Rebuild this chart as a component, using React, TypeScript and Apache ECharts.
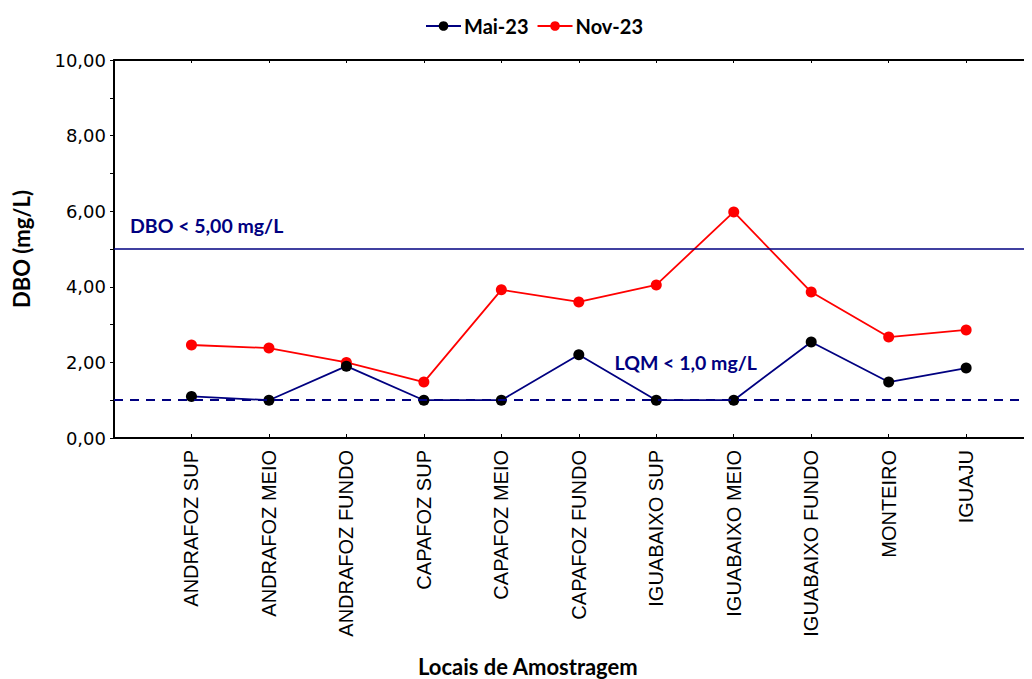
import React, { useEffect, useRef } from "react";
import * as echarts from "echarts";

const categories = [
  "ANDRAFOZ SUP",
  "ANDRAFOZ MEIO",
  "ANDRAFOZ FUNDO",
  "CAPAFOZ SUP",
  "CAPAFOZ MEIO",
  "CAPAFOZ FUNDO",
  "IGUABAIXO SUP",
  "IGUABAIXO MEIO",
  "IGUABAIXO FUNDO",
  "MONTEIRO",
  "IGUAJU",
];
const mai23 = [1.1, 1.0, 1.9, 1.0, 1.0, 2.2, 1.0, 1.0, 2.54, 1.48, 1.85];
const nov23 = [2.46, 2.38, 2.0, 1.48, 3.92, 3.6, 4.05, 5.98, 3.86, 2.67, 2.86];
const yTicks = [0, 2, 4, 6, 8, 10];
const dboLimit = 5;
const lqmLimit = 1;
const xMax = 11.85;

const NAVY = "#000080";
const fmt = (v: number) => v.toFixed(2).replace(".", ",");

export default function App() {
  const ref = useRef<HTMLDivElement>(null);
  useEffect(() => {
    if (!ref.current) return;
    const chart = echarts.init(ref.current, null, { renderer: "svg" });
    const toXY = (arr: number[]) => arr.map((v, i) => [i + 1, v]);
    chart.setOption({
      animation: false,
      backgroundColor: "#fff",
      legend: {
        top: 11,
        left: 420,
        itemGap: 8,
        itemWidth: 35,
        itemHeight: 12,
        textStyle: { fontFamily: "Lato", fontWeight: "bold", fontSize: 20, color: "#000", padding: [0, 0, 0, -2] },
        data: ["Mai-23", "Nov-23"],
      },
      grid: {
        left: 114,
        top: 60,
        right: 0,
        bottom: 241,
      },
      xAxis: [
        {
          type: "value",
          min: 0,
          max: xMax,
          interval: 1,
          splitLine: { show: false },
          axisLine: { show: true, lineStyle: { color: "#000", width: 2 } },
          axisTick: { show: true, inside: true, length: 4, lineStyle: { color: "#000" } },
          axisLabel: {
            rotate: 90,
            margin: 12,
            fontFamily: "Liberation Sans",
            fontSize: 20,
            color: "#000",
            showMinLabel: true,
            showMaxLabel: false,
            formatter: (v: number) => categories[v - 1] ?? "",
          },
        },
        {
          type: "value",
          position: "top",
          min: 0,
          max: xMax,
          interval: 1,
          splitLine: { show: false },
          axisLine: { show: true, lineStyle: { color: "#000", width: 2 } },
          axisTick: { show: true, inside: true, length: 3, lineStyle: { color: "#000" } },
          axisLabel: { show: false },
        },
      ],
      yAxis: {
        type: "value",
        min: yTicks[0],
        max: yTicks[yTicks.length - 1],
        interval: 2,
        name: "DBO (mg/L)",
        nameLocation: "middle",
        nameGap: 82,
        nameTextStyle: { fontFamily: "Lato", fontWeight: "bold", fontSize: 22, color: "#000" },
        splitLine: { show: false },
        axisLine: { show: true, lineStyle: { color: "#000", width: 2 } },
        axisTick: { show: true, inside: false, length: 4, lineStyle: { color: "#000" } },
        minorTick: { show: true, splitNumber: 2, length: 4, lineStyle: { color: "#000" } },
        axisLabel: {
          fontFamily: "DejaVu Sans",
          fontSize: 18,
          color: "#000",
          margin: 8,
          formatter: (v: number) => fmt(v),
        },
      },
      graphic: [
        {
          type: "text",
          left: 418,
          top: 655,
          style: {
            text: "Locais de Amostragem",
            fontFamily: "Lato",
            fontWeight: "bold",
            fontSize: 22,
            fill: "#000",
          },
        },
      ],
      series: [
        {
          name: "Mai-23",
          type: "line",
          data: toXY(mai23),
          symbol: "circle",
          symbolSize: 11,
          itemStyle: { color: "#000" },
          lineStyle: { color: NAVY, width: 1.8 },
          z: 3,
          markLine: {
            silent: true,
            symbol: "none",
            data: [
              {
                yAxis: dboLimit,
                lineStyle: { color: NAVY, type: "solid", width: 1.6 },
                label: {
                  show: true,
                  position: "insideStartTop",
                  distance: [16, 14],
                  formatter: "DBO < 5,00 mg/L",
                  fontFamily: "Lato",
                  fontWeight: "bold",
                  fontSize: 19.5,
                  color: NAVY,
                },
              },
              {
                yAxis: lqmLimit,
                lineStyle: { color: NAVY, type: [9, 7], width: 1.8 },
                label: { show: false },
              },
            ],
          },
          markPoint: {
            silent: true,
            symbol: "circle",
            symbolSize: 0,
            data: [
              {
                coord: [7.38, 2.0],
                label: {
                  show: true,
                  position: "inside",
                  formatter: "LQM < 1,0 mg/L",
                  fontFamily: "Lato",
                  fontWeight: "bold",
                  fontSize: 19.5,
                  color: NAVY,
                },
              },
            ],
          },
        },
        {
          name: "Nov-23",
          type: "line",
          data: toXY(nov23),
          symbol: "circle",
          symbolSize: 11,
          itemStyle: { color: "#ff0000" },
          lineStyle: { color: "#ff0000", width: 1.8 },
          z: 2,
        },
      ],
    });
    return () => chart.dispose();
  }, []);
  return <div ref={ref} style={{ width: 1032, height: 679, marginLeft: -8, marginTop: -8 }} />;
}
